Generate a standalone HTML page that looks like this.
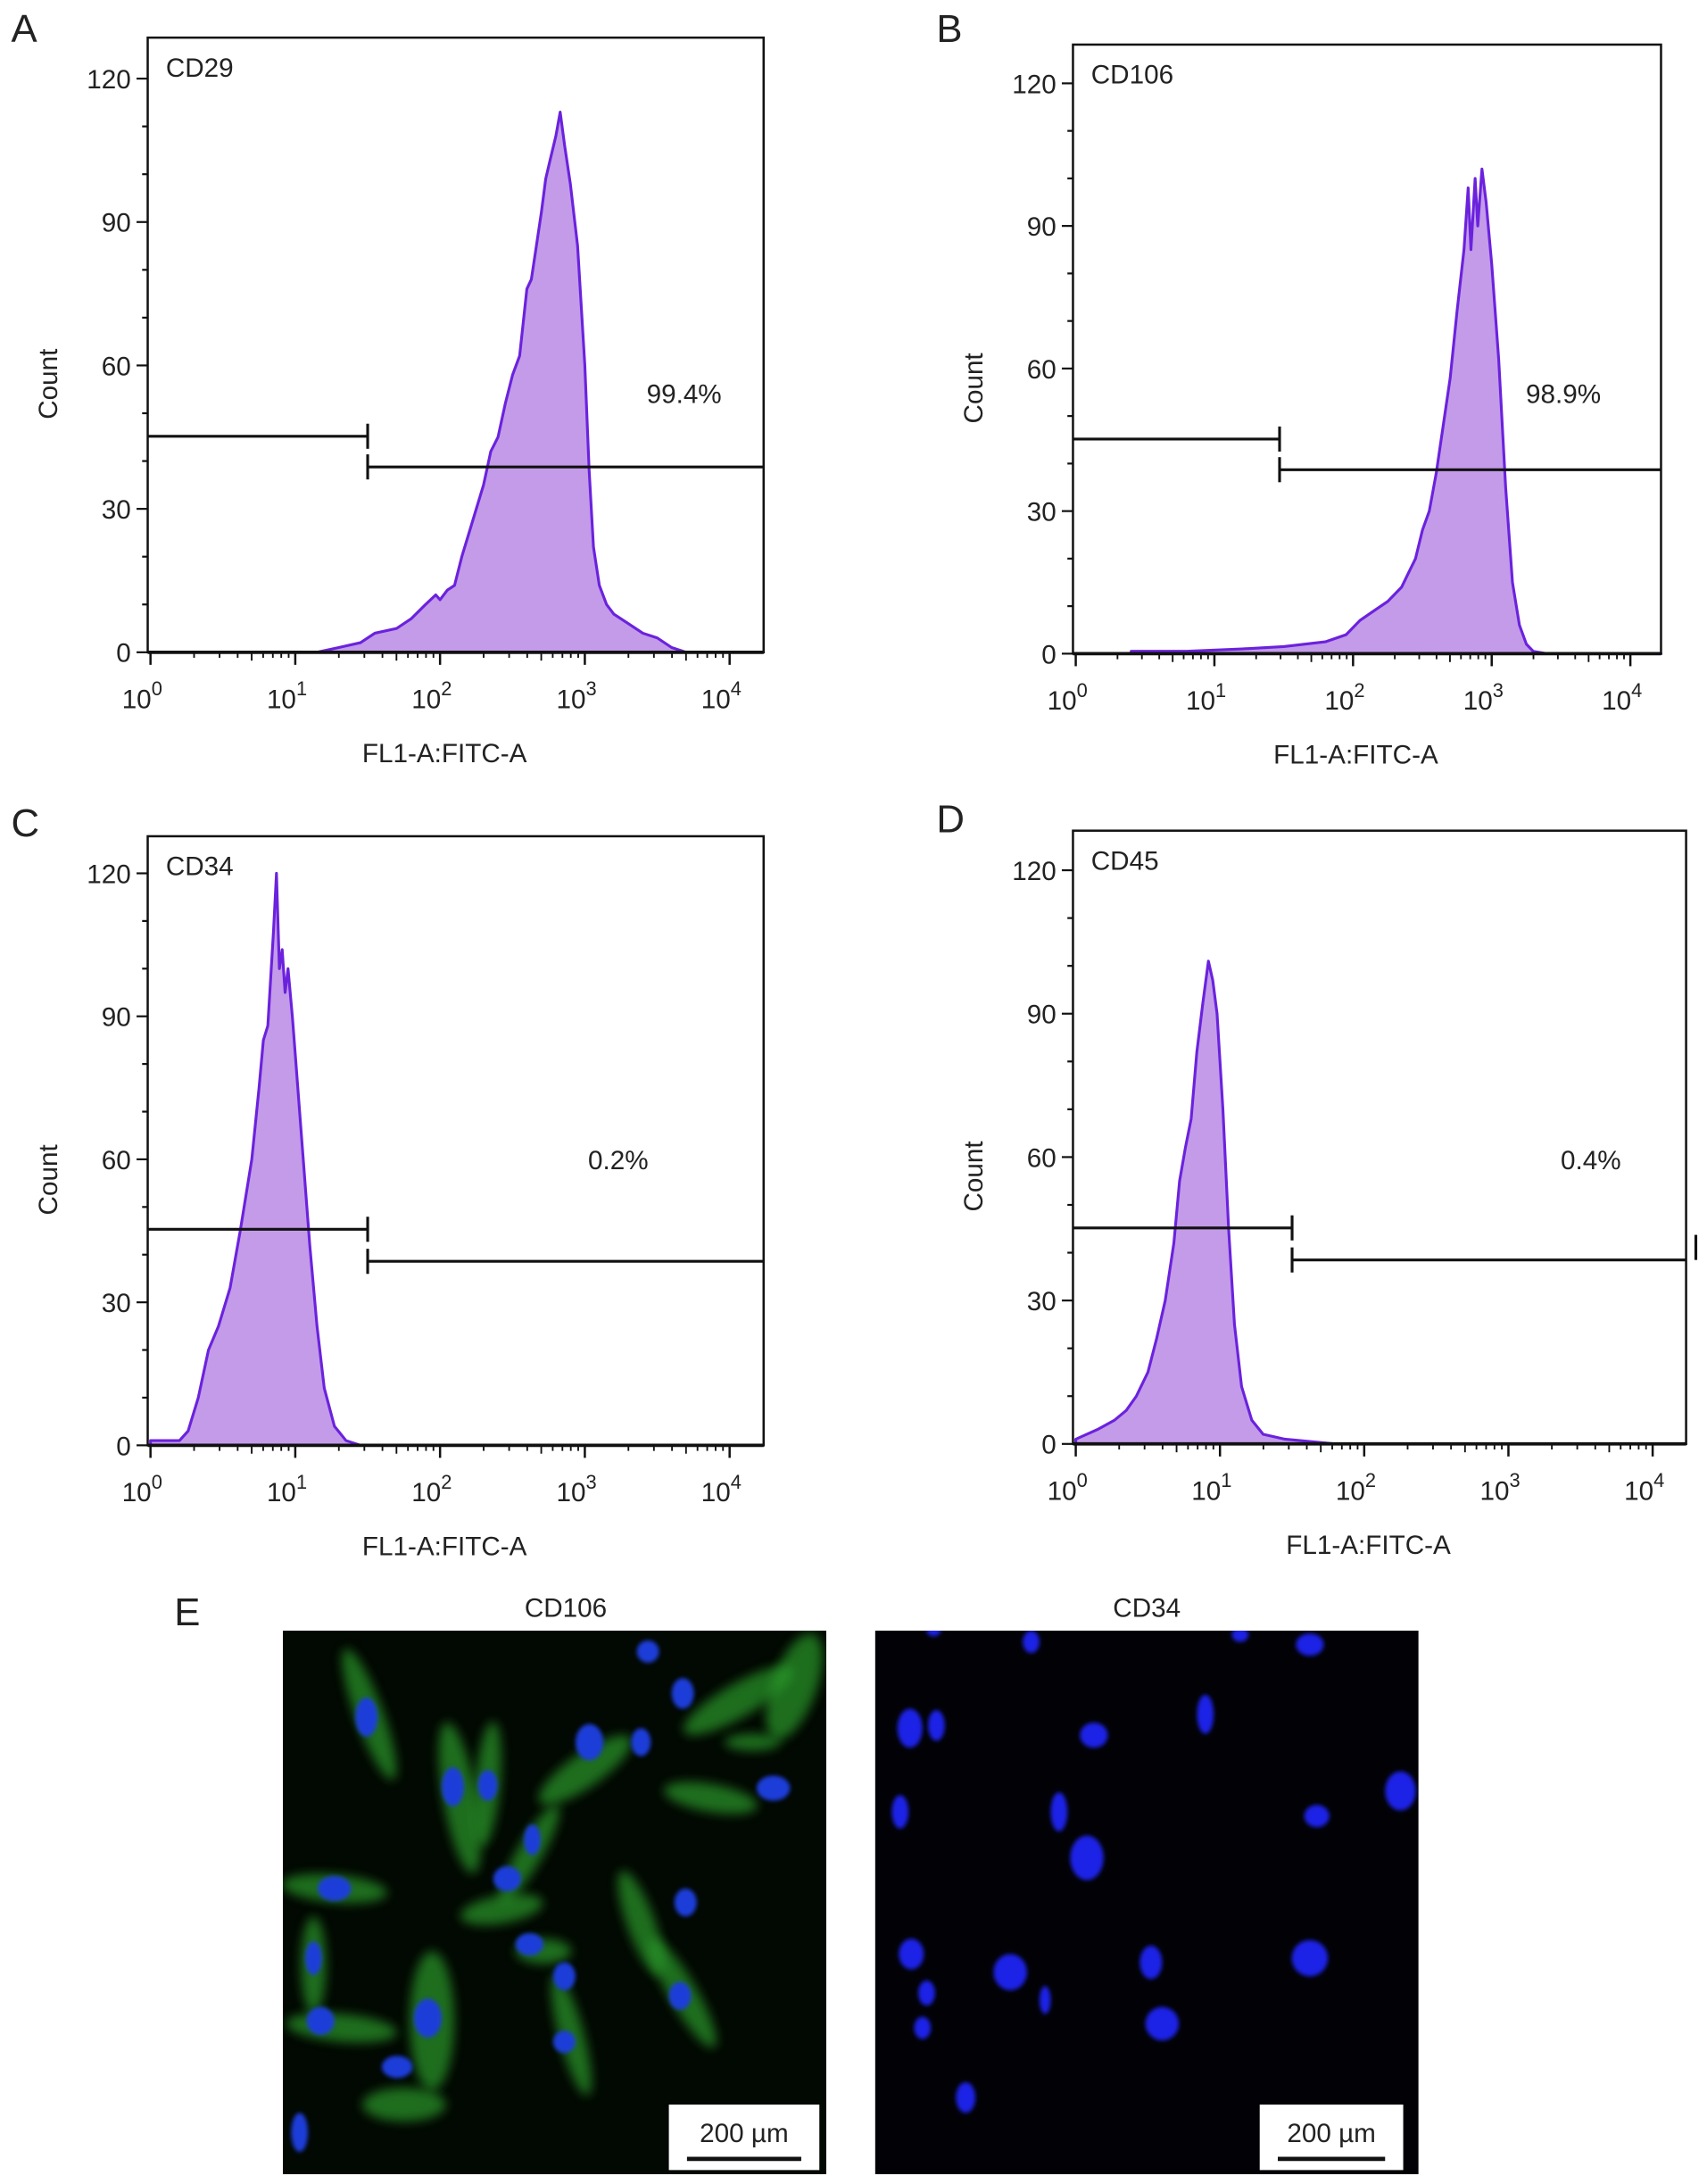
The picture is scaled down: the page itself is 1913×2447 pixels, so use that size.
<!DOCTYPE html>
<html><head><meta charset="utf-8">
<style>
html,body{margin:0;padding:0;background:#fff;}
svg{display:block;}
text{font-family:"Liberation Sans",Arial,sans-serif;fill:#222;}
</style></head>
<body>
<svg id="fig" width="1913" height="2447" viewBox="0 0 1225 1567" preserveAspectRatio="none" xmlns="http://www.w3.org/2000/svg">
<defs>
<filter id="blur3" x="-50%" y="-50%" width="200%" height="200%"><feGaussianBlur stdDeviation="4"/></filter>
<filter id="blur1" x="-50%" y="-50%" width="200%" height="200%"><feGaussianBlur stdDeviation="1.5"/></filter>
<clipPath id="clipL"><rect x="203" y="1170" width="390" height="390"/></clipPath>
<clipPath id="clipR"><rect x="628" y="1170" width="390" height="390"/></clipPath>
</defs>
<g id="charts"></g>
<g id="micro"></g>
</svg>
<script>
// ---- data ----
var panelNames = ["A","B","C","D"];
var markerNames = ["CD29","CD106","CD34","CD45"];
var percentLabels = ["99.4%","98.9%","0.2%","0.4%"];
var yTickValues = [0,30,60,90,120];
var xTickExps = [0,1,2,3,4];
// log10 fluorescence positions and counts per histogram
var logA = [1.15,1.3,1.45,1.55,1.7,1.8,1.9,1.97,2.0,2.05,2.1,2.15,2.2,2.25,2.3,2.35,2.4,2.45,2.5,2.55,2.6,2.63,2.66,2.7,2.73,2.76,2.8,2.83,2.86,2.9,2.95,3.0,3.03,3.06,3.1,3.15,3.2,3.3,3.4,3.5,3.6,3.7,4.23];
var cntA = [0,1,2,4,5,7,10,12,11,13,14,20,25,30,35,42,45,52,58,62,76,78,84,92,99,103,108,113,106,98,85,60,38,22,14,10,8,6,4,3,1,0,0];
var logB = [0.4,0.8,1.2,1.5,1.8,1.95,2.05,2.15,2.25,2.35,2.4,2.45,2.5,2.55,2.6,2.65,2.7,2.75,2.8,2.83,2.85,2.88,2.9,2.93,2.96,3.0,3.05,3.1,3.15,3.2,3.25,3.3,3.4,3.6,4.23];
var cntB = [0.5,0.5,1,1.5,2.5,4,7,9,11,14,17,20,26,30,38,48,58,72,85,98,85,100,90,102,95,82,62,35,15,6,2,0.5,0,0,0];
var logC = [0,0.1,0.2,0.26,0.33,0.4,0.47,0.55,0.62,0.7,0.75,0.78,0.81,0.85,0.87,0.89,0.91,0.93,0.95,0.98,1.0,1.05,1.1,1.15,1.2,1.27,1.35,1.45,4.23];
var cntC = [1,1,1,3,10,20,25,33,45,60,75,85,88,108,120,100,104,95,100,90,82,62,42,25,12,4,1,0,0];
var logD = [0,0.15,0.27,0.35,0.42,0.5,0.56,0.62,0.68,0.72,0.76,0.8,0.84,0.88,0.92,0.95,0.98,1.02,1.06,1.1,1.15,1.22,1.3,1.45,1.8,4.23];
var cntD = [1,3,5,7,10,15,22,30,42,55,62,68,82,92,101,97,90,70,45,25,12,5,2,1,0,0];
var gateLeftEnd = [1.5,1.47,1.5,1.5];
// ---- layout (not data) ----
var boxes = [
 {x0:106,x1:548,top:27,y0:468,dec:103.9,xz:108,ppc:3.43,lx:8,ly:30,gl:313,gr:335,px:464,py:289,gateEnd:548},
 {x0:770,x1:1192,top:32,y0:469,dec:99.5,xz:772,ppc:3.41,lx:672,ly:30,gl:315,gr:337,px:1095,py:289,gateEnd:1192},
 {x0:106,x1:548,top:600,y0:1037,dec:103.9,xz:108,ppc:3.42,lx:8,ly:600,gl:882,gr:905,px:422,py:839,gateEnd:548},
 {x0:770,x1:1210,top:596,y0:1036,dec:103.5,xz:772,ppc:3.43,lx:672,ly:597,gl:881,gr:904,px:1120,py:839,gateEnd:1210}
];
var series = [[logA,cntA],[logB,cntB],[logC,cntC],[logD,cntD]];
var NS="http://www.w3.org/2000/svg";
function mk(tag,attrs,parent){var e=document.createElementNS(NS,tag);for(var k in attrs)e.setAttribute(k,attrs[k]);parent.appendChild(e);return e;}
var root=document.getElementById('charts');
boxes.forEach(function(b,i){
  var g=mk('g',{},root);
  
  
  function X(l){return b.xz+b.dec*l;}
  function Y(c){return b.y0-b.ppc*c;}
  var lab=mk('text',{x:b.lx,y:b.ly,'font-size':28},g);lab.textContent=panelNames[i];
  
  
  var lx=series[i][0],cy=series[i][1];
  var d='M'+X(lx[0])+','+b.y0;
  for(var k=0;k<lx.length;k++){d+=' L'+Math.min(X(lx[k]),b.x1).toFixed(1)+','+Y(cy[k]).toFixed(1);}
  d+=' L'+Math.min(X(lx[lx.length-1]),b.x1)+','+b.y0+' Z';
  var p=mk('path',{d:d,fill:'#c39be9',stroke:'#6b22dd','stroke-width':2,'stroke-linejoin':'round'},g);
  
  
  var r=mk('rect',{x:b.x0,y:b.top,width:b.x1-b.x0,height:b.y0-b.top,fill:'none',stroke:'#111','stroke-width':1.6},g);
  
  
  mk('line',{x1:b.x0,y1:b.y0,x2:b.x1,y2:b.y0,stroke:'#111','stroke-width':2.4},g);
  for(var v=0;v<=120;v+=10){var maj=yTickValues.indexOf(v)>=0;
    mk('line',{x1:b.x0-(maj?8:4),y1:Y(v),x2:b.x0,y2:Y(v),stroke:'#111','stroke-width':1.4},g);}
  yTickValues.forEach(function(v){var t=mk('text',{x:b.x0-12,y:Y(v)+7,'font-size':19,'text-anchor':'end'},g);t.textContent=v;
    
    });
  xTickExps.forEach(function(e){
    mk('line',{x1:X(e),y1:b.y0,x2:X(e),y2:b.y0+9,stroke:'#111','stroke-width':1.6},g);
    if(e<4)for(var m=2;m<=9;m++){var xx=X(e+Math.log10(m));mk('line',{x1:xx,y1:b.y0,x2:xx,y2:b.y0+(m==5?6:4),stroke:'#111','stroke-width':1.2},g);}
    var t=mk('text',{x:X(e)-6,y:b.y0+40,'font-size':19,'text-anchor':'middle'},g);
    
    
    t.appendChild(document.createTextNode('10'));
    var s=mk('tspan',{dy:-9,'font-size':14},t);s.textContent=e;
  });
  var xt=mk('text',{x:(b.x0+b.x1)/2-8,y:b.y0+79,'font-size':19,'text-anchor':'middle'},g);xt.textContent='FL1-A:FITC-A';
  
  
  var yt=mk('text',{x:0,y:0,'font-size':19,'text-anchor':'middle',transform:'translate('+(b.x0-65)+','+((b.top+b.y0)/2+28)+') rotate(-90)'},g);yt.textContent='Count';
  
  
  var mt=mk('text',{x:b.x0+13,y:b.top+28,'font-size':19},g);mt.textContent=markerNames[i];
  
  
  var gx=X(gateLeftEnd[i]);
  var gg=mk('g',{stroke:'#111','stroke-width':2},g);
  
  
  mk('line',{x1:b.x0,y1:b.gl,x2:gx,y2:b.gl},gg);
  mk('line',{x1:gx,y1:b.gl-9,x2:gx,y2:b.gl+9},gg);
  mk('line',{x1:gx,y1:b.gr,x2:b.gateEnd,y2:b.gr},gg);
  mk('line',{x1:gx,y1:b.gr-9,x2:gx,y2:b.gr+9},gg);
  var pt=mk('text',{x:b.px,y:b.py,'font-size':19},g);pt.textContent=percentLabels[i];
  
  
});
mk('line',{x1:1217,y1:886,x2:1217,y2:904,stroke:'#111','stroke-width':2},root);
</script>
<script>
var NS2="http://www.w3.org/2000/svg";
function mk2(tag,attrs,parent){var e=document.createElementNS(NS2,tag);for(var k in attrs)e.setAttribute(k,attrs[k]);parent.appendChild(e);return e;}
var M=document.getElementById('micro');
var eL=mk2('text',{x:125,y:1166,'font-size':28},M);eL.textContent='E';


var t1=mk2('text',{x:406,y:1160,'font-size':19,'text-anchor':'middle'},M);t1.textContent='CD106';


var t2=mk2('text',{x:823,y:1160,'font-size':19,'text-anchor':'middle'},M);t2.textContent='CD34';


var L=mk2('g',{'clip-path':'url(#clipL)'},M);


mk2('rect',{x:203,y:1170,width:390,height:390,fill:'#020802'},L);
var greens=[[265,1230,10,50,-20],[330,1290,12,55,-10],[350,1280,9,45,5],[420,1270,40,12,-35],[530,1220,45,12,-30],[510,1290,34,10,10],[380,1330,9,40,30],[240,1355,38,10,5],[360,1370,30,10,-10],[390,1400,20,9,0],[460,1380,10,40,-20],[490,1430,10,45,-30],[225,1410,9,35,0],[310,1450,16,50,0],[245,1455,40,10,5],[410,1460,9,45,-15],[290,1510,30,12,0],[540,1250,20,6,0],[570,1210,16,40,20]];
greens.forEach(function(c){mk2('ellipse',{cx:c[0],cy:c[1],rx:c[2],ry:c[3],transform:'rotate('+c[4]+' '+c[0]+' '+c[1]+')',fill:'#2a9a2a',opacity:0.7,filter:'url(#blur3)'},L);});
var blueL=[[263,1232,8,14],[325,1282,8,14],[350,1281,7,11],[423,1250,10,13],[382,1320,6,11],[460,1250,7,10],[490,1215,8,11],[555,1283,12,9],[240,1355,12,9],[364,1348,10,9],[380,1395,10,8],[405,1418,8,10],[492,1365,8,10],[488,1432,8,10],[225,1405,6,12],[230,1450,10,10],[307,1448,10,14],[285,1483,11,8],[405,1465,8,8],[465,1185,8,8],[215,1530,6,14]];
blueL.forEach(function(c){mk2('ellipse',{cx:c[0],cy:c[1],rx:c[2],ry:c[3],fill:'#1a3cd8',filter:'url(#blur1)'},L);});
var R=mk2('g',{'clip-path':'url(#clipR)'},M);


mk2('rect',{x:628,y:1170,width:390,height:390,fill:'#020206'},R);
var blueR=[[653,1240,9,14],[672,1238,6,11],[740,1178,6,8],[785,1245,10,9],[865,1230,6,14],[940,1180,10,8],[1005,1285,11,14],[945,1303,9,8],[760,1300,6,14],[646,1300,6,12],[780,1333,12,16],[654,1402,9,11],[725,1415,12,13],[826,1408,8,12],[940,1405,13,13],[665,1430,6,9],[750,1435,4,10],[834,1452,12,12],[662,1455,6,8],[693,1505,7,11],[890,1173,6,5],[670,1170,5,4]];
blueR.forEach(function(c){mk2('ellipse',{cx:c[0],cy:c[1],rx:c[2],ry:c[3],fill:'#1a22e6',filter:'url(#blur1)'},R);});
[[480,593],[904,1012]].forEach(function(s,i){
  var g=mk2('g',{},M);
  
  
  mk2('rect',{x:s[0],y:1510,width:s[1]-s[0]-5,height:47,fill:'#fff'},g);
  var t=mk2('text',{x:(s[0]+s[1]-5)/2,y:1537,'font-size':19,'text-anchor':'middle'},g);t.textContent='200 µm';
  mk2('line',{x1:s[0]+13,y1:1549,x2:s[1]-18,y2:1549,stroke:'#111','stroke-width':3},g);
});
</script>
</body></html>
